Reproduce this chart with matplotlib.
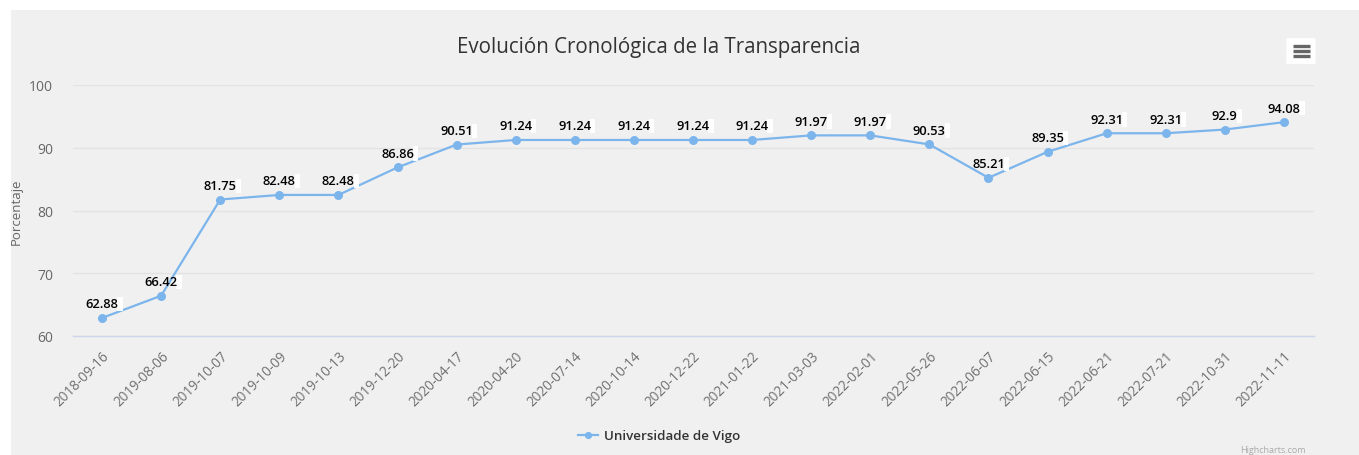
import matplotlib.pyplot as plt
from matplotlib.patches import Rectangle, FancyBboxPatch
from matplotlib.lines import Line2D

plt.rcParams['font.family'] = ['Open Sans', 'DejaVu Sans']

dates = ["2018-09-16", "2019-08-06", "2019-10-07", "2019-10-09", "2019-10-13",
         "2019-12-20", "2020-04-17", "2020-04-20", "2020-07-14", "2020-10-14",
         "2020-12-22", "2021-01-22", "2021-03-03", "2022-02-01", "2022-05-26",
         "2022-06-07", "2022-06-15", "2022-06-21", "2022-07-21", "2022-10-31",
         "2022-11-11"]
values = [62.88, 66.42, 81.75, 82.48, 82.48, 86.86, 90.51, 91.24, 91.24, 91.24,
          91.24, 91.24, 91.97, 91.97, 90.53, 85.21, 89.35, 92.31, 92.31, 92.9,
          94.08]
yticks = [60, 70, 80, 90, 100]
series_name = "Universidade de Vigo"

W, H = 1359, 456
fig = plt.figure(figsize=(W / 100, H / 100), dpi=100)
fig.patch.set_facecolor("white")
# gray chart background (white strip at top/left like the screenshot)
fig.add_artist(Rectangle((11 / W, 0), 1 - 11 / W, 1 - 11 / H, transform=fig.transFigure,
                         facecolor="#f0f0f0", edgecolor="none", zorder=0))

ax = fig.add_axes([72.5 / W, 1 - 337 / H, (1313.5 - 72.5) / W, (337 - 86) / H])
ax.set_facecolor("none")

x = list(range(len(dates)))
line, = ax.plot(x, values, color="#7cb5ec", lw=1.6, marker="o", markersize=6.5,
                markeredgewidth=0, zorder=3, label=series_name)

for xi, v in zip(x, values):
    lab = f"{v:g}"
    ax.annotate(lab, (xi, v), xytext=(0, 5.5), textcoords="offset points",
                ha="center", va="bottom", fontsize=9.3, color="#000000",
                fontweight="semibold", zorder=5)
    # little white block that trails each label
    ax.annotate("\u2009", (xi, v), xytext=(len(lab) * 2.45, 6), textcoords="offset points",
                ha="left", va="bottom", fontsize=8,
                bbox=dict(boxstyle="square,pad=0.15", fc="white", ec="none", alpha=0.95),
                zorder=4)

ax.set_xlim(-0.5, len(dates) - 0.5)
ax.set_ylim(60, 100)
ax.set_yticks(yticks)
ax.set_yticklabels([str(t) for t in yticks], color="#666666", fontsize=10)
ax.set_xticks(x)
ax.set_xticklabels(dates, rotation=45, ha="right", rotation_mode="anchor",
                   color="#707070", fontsize=9.8)
ax.tick_params(axis="both", length=0)
ax.tick_params(axis="y", pad=14)
ax.tick_params(axis="x", pad=9)
ax.grid(axis="y", color="#e3e3e3", lw=1)
ax.set_axisbelow(True)
for s in ["top", "right", "left"]:
    ax.spines[s].set_visible(False)
ax.spines["bottom"].set_color("#ccd6eb")
ax.spines["bottom"].set_linewidth(1)

ax.set_ylabel("Porcentaje", color="#666666", fontsize=9.5)
ax.yaxis.set_label_coords(-50 / 1241, 0.5)

fig.text(659 / W, 1 - 47 / H, "Evolución Cronológica de la Transparencia",
         ha="center", va="center", fontsize=14.8, color="#333333")

leg = fig.legend(handles=[line], loc="center", bbox_to_anchor=(659 / W, 1 - 437 / H),
                 frameon=False, prop=dict(size=9.6, weight="semibold"),
                 handlelength=1.5, handletextpad=0.5, markerscale=0.8)
for t in leg.get_texts():
    t.set_color("#333333")

# menu button
fig.add_artist(FancyBboxPatch((1289 / W, 1 - 64 / H), 24 / W, 24 / H,
                              boxstyle="round,pad=0.002", transform=fig.transFigure,
                              fc="white", ec="none"))
for yy in (47, 52, 57):
    fig.add_artist(Line2D([1293 / W, 1310 / W], [1 - yy / H] * 2, transform=fig.transFigure,
                          color="#666666", lw=2.4, solid_capstyle="butt"))

fig.text(1240 / W, 1 - 455 / H, "Highcharts.com", ha="left", va="bottom",
         fontsize=6.5, color="#aaaaaa")

fig.savefig("out.png", dpi=100)
